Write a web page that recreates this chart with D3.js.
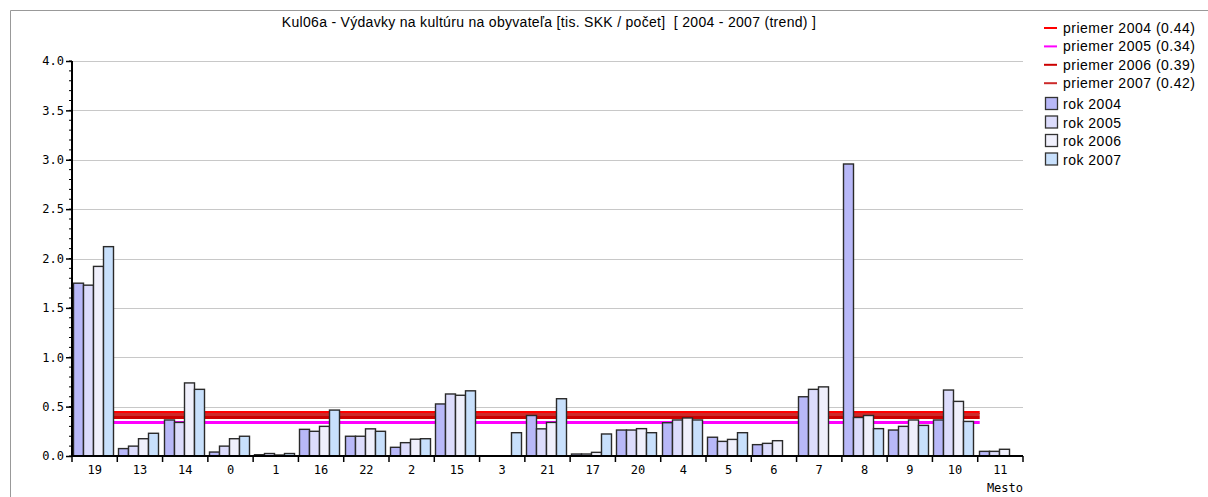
<!DOCTYPE html>
<html>
<head>
<meta charset="utf-8">
<script src="https://cdn.jsdelivr.net/npm/d3@7"></script>
<style>
  body { margin: 0; background: #fff; }
</style>
</head>
<body>
<div id="wrapper"></div>
<script>
// data
const categories = ["19","13","14","0","1","16","22","2","15","3","21","17","20","4","5","6","7","8","9","10","11"]
const years = ["2004","2005","2006","2007"]
const values2004 = [1.75,0.075,0.365,0.04,0.013,0.27,0.20,0.088,0.527,0,0.41,0.02,0.263,0.337,0.19,0.115,0.60,2.957,0.263,0.365,0.047]
const values2005 = [1.73,0.10,0.34,0.10,0.025,0.25,0.20,0.135,0.628,0,0.275,0.02,0.263,0.365,0.148,0.128,0.675,0.39,0.30,0.668,0.047]
const values2006 = [1.92,0.175,0.74,0.175,0.01,0.30,0.275,0.17,0.615,0,0.34,0.037,0.277,0.385,0.168,0.155,0.70,0.41,0.365,0.553,0.068]
const values2007 = [2.12,0.23,0.675,0.20,0.025,0.465,0.25,0.175,0.66,0.236,0.58,0.223,0.236,0.365,0.236,0,0,0.277,0.31,0.35,0]
const means = [0.44,0.34,0.39,0.42]
const yTicks = [0,0.5,1,1.5,2,2.5,3,3.5,4]

const series = [values2004, values2005, values2006, values2007]
const barColors = ["#b8b8f8","#dcdcfc","#f0f0fc","#c8e0fc"]
const lineColors = ["#ff0000","#ff00ff","#cc0000","#cc2a2a"]

const width = 1208
const height = 497
const margin = {top: 61, left: 72, right: 185, bottom: 41}
const plotRight = width - margin.right
const plotBottom = height - margin.bottom
const monoFont = "DejaVu Sans Mono, monospace"
const textFont = "Liberation Sans, Arial, sans-serif"

const svg = d3.select("#wrapper")
    .append("svg")
    .attr("width", width)
    .attr("height", height)
    .style("display", "block")

// frame
svg.append("path")
    .attr("d", `M10.5,${height} V10.5 H${width}`)
    .attr("fill", "none")
    .attr("stroke", "#999")

// title
svg.append("text")
    .attr("x", 549)
    .attr("y", 27)
    .attr("text-anchor", "middle")
    .style("font-family", textFont)
    .style("font-size", "14px")
    .style("letter-spacing", "0.3px")
    .style("white-space", "pre")
    .attr("fill", "#000")
    .text("Kul06a - Výdavky na kultúru na obyvateľa [tis. SKK / počet]  [ 2004 - 2007 (trend) ]")

// scales
const xScale = d3.scaleBand()
    .domain(categories)
    .range([margin.left, plotRight])
const yScale = d3.scaleLinear()
    .domain([0, 4])
    .range([plotBottom, margin.top])

// gridlines
svg.append("g")
    .selectAll("line")
    .data(yTicks.filter(d => d > 0))
    .join("line")
    .attr("x1", margin.left)
    .attr("x2", plotRight)
    .attr("y1", d => Math.round(yScale(d)) + 0.5)
    .attr("y2", d => Math.round(yScale(d)) + 0.5)
    .attr("stroke", "#c8c8c8")

// mean lines (behind bars)
const lineStart = xScale(categories[0]) + 41
const lineEnd = xScale(categories[categories.length - 1]) + 2
svg.append("g")
    .selectAll("line")
    .data(means)
    .join("line")
    .attr("x1", lineStart)
    .attr("x2", lineEnd)
    .attr("y1", d => yScale(d))
    .attr("y2", d => yScale(d))
    .attr("stroke", (d, i) => lineColors[i])
    .attr("stroke-width", 3)

// bars
const barW = 10
const barGroups = svg.append("g")
    .selectAll("g")
    .data(series)
    .join("g")
    .attr("fill", (d, i) => barColors[i])
barGroups.selectAll("rect")
    .data((vals, s) => vals.map((v, i) => ({v, c: categories[i], s})).filter(d => d.v > 0))
    .join("rect")
    .attr("x", d => Math.round(xScale(d.c)) + 1.5 + d.s * barW)
    .attr("y", d => yScale(d.v))
    .attr("width", barW)
    .attr("height", d => plotBottom - yScale(d.v))
    .attr("stroke", "#2a2a2a")
    .attr("stroke-width", 1.4)

// y axis
const yAxis = d3.axisLeft(yScale)
    .tickValues(yTicks)
    .tickFormat(d3.format(".1f"))
    .tickSize(6)
    .tickPadding(2)
const yAxisG = svg.append("g")
    .attr("transform", `translate(${margin.left},0)`)
    .call(yAxis)
yAxisG.select(".domain").attr("stroke-width", 2).attr("d", `M0,${margin.top}V${plotBottom}`)
yAxisG.selectAll(".tick line").attr("stroke-width", 1.5)
yAxisG.selectAll("text")
    .style("font-family", monoFont)
    .style("font-size", "12px")
    .attr("fill", "#000")
// minor ticks
yAxisG.append("g")
    .selectAll("line")
    .data(d3.range(0, 41).map(i => i / 10))
    .join("line")
    .attr("x1", -3)
    .attr("x2", 0)
    .attr("y1", d => yScale(d))
    .attr("y2", d => yScale(d))
    .attr("stroke", "#000")

// x axis
const xAxisG = svg.append("g")
    .attr("transform", `translate(0,${plotBottom})`)
xAxisG.append("line")
    .attr("x1", margin.left)
    .attr("x2", plotRight)
    .attr("stroke", "#000")
    .attr("stroke-width", 2)
xAxisG.selectAll(".tick")
    .data(categories.concat(["end"]))
    .join("line")
    .attr("class", "tick")
    .attr("x1", d => d === "end" ? plotRight : xScale(d))
    .attr("x2", d => d === "end" ? plotRight : xScale(d))
    .attr("y1", 0)
    .attr("y2", 6)
    .attr("stroke", "#000")
    .attr("stroke-width", 1.5)
xAxisG.selectAll("text.cat")
    .data(categories)
    .join("text")
    .attr("class", "cat")
    .attr("x", d => xScale(d) + xScale.bandwidth() / 2)
    .attr("y", 18)
    .attr("text-anchor", "middle")
    .style("font-family", monoFont)
    .style("font-size", "12px")
    .text(d => d)
xAxisG.append("text")
    .attr("x", plotRight)
    .attr("y", 36)
    .attr("text-anchor", "end")
    .style("font-family", monoFont)
    .style("font-size", "12px")
    .text("Mesto")

// legend
const legend = svg.append("g")
    .style("font-family", textFont)
    .style("font-size", "14px")
    .style("letter-spacing", "0.5px")
const lineItems = legend.selectAll("g.li")
    .data(means)
    .join("g")
    .attr("class", "li")
    .attr("transform", (d, i) => `translate(1044,${28 + i * 18.4})`)
lineItems.append("line")
    .attr("x1", 0).attr("x2", 13)
    .attr("stroke", (d, i) => lineColors[i])
    .attr("stroke-width", 2)
lineItems.append("text")
    .attr("x", 19)
    .attr("y", 5)
    .text((d, i) => `priemer ${years[i]} (${d3.format(".2f")(d)})`)
const rectItems = legend.selectAll("g.ri")
    .data(years)
    .join("g")
    .attr("class", "ri")
    .attr("transform", (d, i) => `translate(1045.5,${97.5 + i * 18.5})`)
rectItems.append("rect")
    .attr("width", 12)
    .attr("height", 12)
    .attr("fill", (d, i) => barColors[i])
    .attr("stroke", "#333")
    .attr("stroke-width", 1.3)
rectItems.append("text")
    .attr("x", 17.5)
    .attr("y", 11.5)
    .text(d => `rok ${d}`)
</script>
</body>
</html>
